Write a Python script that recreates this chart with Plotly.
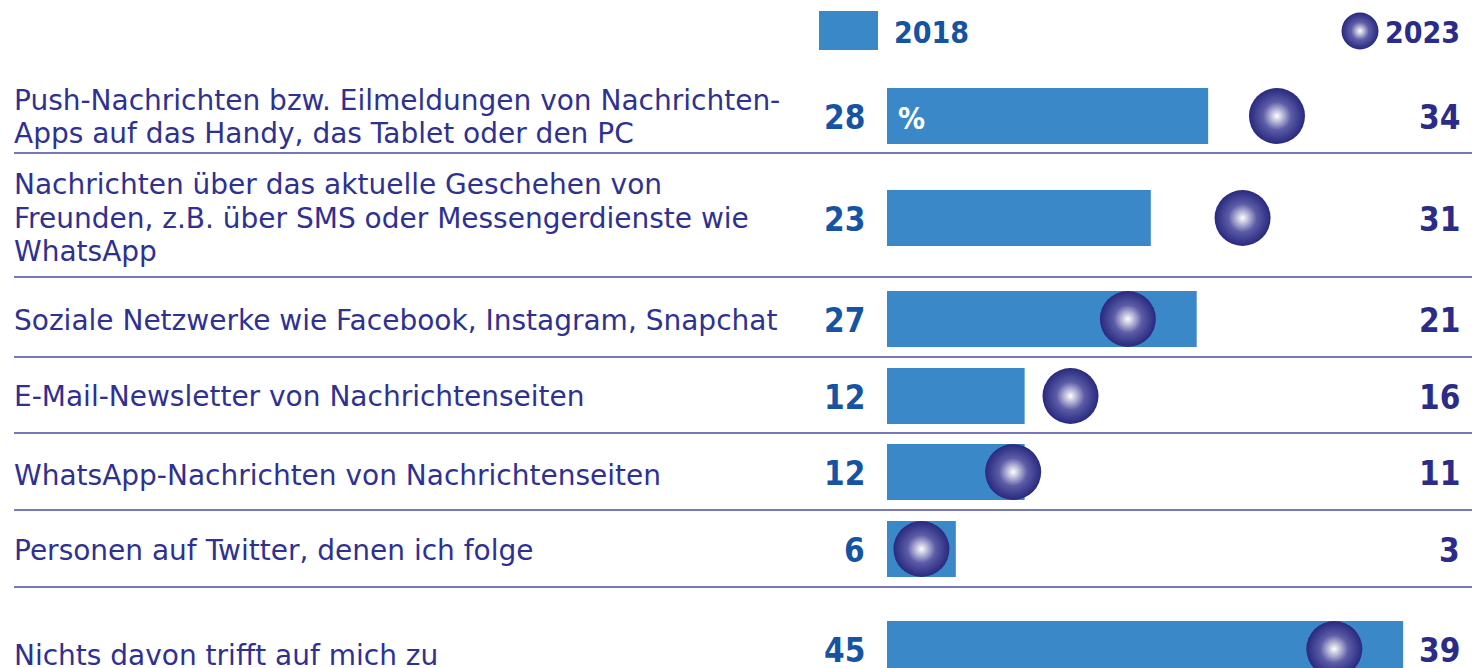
import plotly.graph_objects as go

# ---------------- data ----------------
categories = [
    "Push-Nachrichten bzw. Eilmeldungen von Nachrichten-<br>Apps auf das Handy, das Tablet oder den PC",
    "Nachrichten über das aktuelle Geschehen von<br>Freunden, z.B. über SMS oder Messengerdienste wie<br>WhatsApp",
    "Soziale Netzwerke wie Facebook, Instagram, Snapchat",
    "E-Mail-Newsletter von Nachrichtenseiten",
    "WhatsApp-Nachrichten von Nachrichtenseiten",
    "Personen auf Twitter, denen ich folge",
    "Nichts davon trifft auf mich zu",
]
values_2018 = [28, 23, 27, 12, 12, 6, 45]
values_2023 = [34, 31, 21, 16, 11, 3, 39]
series_names = ["2018", "2023"]

# ---------------- layout constants (page pixels) ----------------
PAGE_W, PAGE_H = 1480, 668
OFF = 8                       # default body margin of the html page
W, H = PAGE_W - OFF, PAGE_H - OFF
X0_PX = 887                   # page pixel where value 0 sits
PX_PER_UNIT = 11.47           # pixels per percentage point
row_y = [116, 218, 319, 396, 472, 549, 649]      # bar centres
label_y = [117, 218, 320, 396, 475, 550, 655]    # label centres
sep_y = [153, 277, 357, 433, 510, 587]           # separator lines
LINE_H = 33.5
BAR_H = 56
DOT = 56


def px(xp):  # page x pixel -> paper fraction
    return (xp - OFF) / W


def py(yp):  # page y pixel -> y axis units
    return yp - OFF


BAR_COLOR = "#3b88c8"
TXT_COLOR = "#2e3192"
V18_COLOR = "#1553a3"
V23_COLOR = "#2b2b88"
DOT_EDGE = "#28287f"

LABEL_FONT = "DejaVu Sans, Noto Sans, sans-serif"
NUM_FONT = "DejaVu Sans Condensed, Liberation Sans Narrow, DejaVu Sans, sans-serif"

x0 = X0_PX - OFF
xr = [-x0 / PX_PER_UNIT, (W - x0) / PX_PER_UNIT]
ry = [py(v) for v in row_y]

fig = go.Figure()

# 2018 bars
fig.add_trace(go.Bar(
    x=values_2018, y=ry, orientation="h", base=0, width=BAR_H,
    marker=dict(color=BAR_COLOR, line=dict(width=0)),
    name=series_names[0], showlegend=False, hoverinfo="skip",
))

# 2023 dots (two layers for a soft spherical gradient)
fig.add_trace(go.Scatter(
    x=values_2023, y=ry, mode="markers",
    marker=dict(size=DOT, color=DOT_EDGE, line=dict(width=0),
                gradient=dict(type="radial", color="#9090cf")),
    name=series_names[1], showlegend=False, hoverinfo="skip",
))
fig.add_trace(go.Scatter(
    x=values_2023, y=ry, mode="markers",
    marker=dict(size=DOT * 0.5, color="#5d5da7", line=dict(width=0),
                gradient=dict(type="radial", color="#ffffff")),
    showlegend=False, hoverinfo="skip",
))

# legend: 2023 dot
leg_dot_x = (1360 - X0_PX) / PX_PER_UNIT
fig.add_trace(go.Scatter(
    x=[leg_dot_x], y=[py(31)], mode="markers",
    marker=dict(size=37, color=DOT_EDGE, line=dict(width=0),
                gradient=dict(type="radial", color="#9090cf")),
    showlegend=False, hoverinfo="skip",
))
fig.add_trace(go.Scatter(
    x=[leg_dot_x], y=[py(31)], mode="markers",
    marker=dict(size=18, color="#5d5da7", line=dict(width=0),
                gradient=dict(type="radial", color="#ffffff")),
    showlegend=False, hoverinfo="skip",
))

shapes = []
# legend: 2018 box
shapes.append(dict(type="rect", xref="paper", yref="y",
                   x0=px(819), x1=px(878), y0=py(11), y1=py(50),
                   fillcolor=BAR_COLOR, line=dict(width=0), layer="below"))
# separators
for sy in sep_y:
    shapes.append(dict(type="line", xref="paper", yref="y",
                       x0=px(14), x1=1.0, y0=py(sy), y1=py(sy),
                       line=dict(color="#4a4aa6", width=1.5), layer="below"))

annotations = []
for cat, ly in zip(categories, label_y):
    lines = cat.split("<br>")
    n = len(lines)
    for i, line in enumerate(lines):
        annotations.append(dict(
            text=line, xref="paper", yref="y", x=px(12),
            y=py(ly + (i - (n - 1) / 2) * LINE_H),
            xanchor="left", yanchor="middle", align="left", showarrow=False,
            font=dict(family=LABEL_FONT, size=28, color=TXT_COLOR),
        ))
for v, yy in zip(values_2018, row_y):
    annotations.append(dict(
        text=str(v), xref="paper", yref="y", x=px(867), y=py(yy + 1),
        xanchor="right", yanchor="middle", showarrow=False,
        font=dict(family=NUM_FONT, size=33, color=V18_COLOR, weight="bold"),
    ))
for v, yy in zip(values_2023, row_y):
    annotations.append(dict(
        text=str(v), xref="paper", yref="y", x=px(1462), y=py(yy + 1),
        xanchor="right", yanchor="middle", showarrow=False,
        font=dict(family=NUM_FONT, size=33, color=V23_COLOR, weight="bold"),
    ))
# percent sign inside first bar
annotations.append(dict(
    text="%", xref="paper", yref="y", x=px(896), y=py(row_y[0] + 2),
    xanchor="left", yanchor="middle", showarrow=False,
    font=dict(family=NUM_FONT, size=30, color="white", weight="bold"),
))
# legend texts
annotations.append(dict(
    text=series_names[0], xref="paper", yref="y", x=px(892), y=py(32),
    xanchor="left", yanchor="middle", showarrow=False,
    font=dict(family=NUM_FONT, size=30, color=V18_COLOR, weight="bold"),
))
annotations.append(dict(
    text=series_names[1], xref="paper", yref="y", x=px(1462), y=py(32),
    xanchor="right", yanchor="middle", showarrow=False,
    font=dict(family=NUM_FONT, size=30, color=V23_COLOR, weight="bold"),
))

fig.update_layout(
    width=W, height=H,
    margin=dict(l=0, r=0, t=0, b=0),
    paper_bgcolor="white", plot_bgcolor="white",
    xaxis=dict(range=xr, visible=False, fixedrange=True),
    yaxis=dict(range=[H, 0], visible=False, fixedrange=True),
    shapes=shapes, annotations=annotations,
    barmode="overlay", showlegend=False,
)

fig.write_html("out.html")
